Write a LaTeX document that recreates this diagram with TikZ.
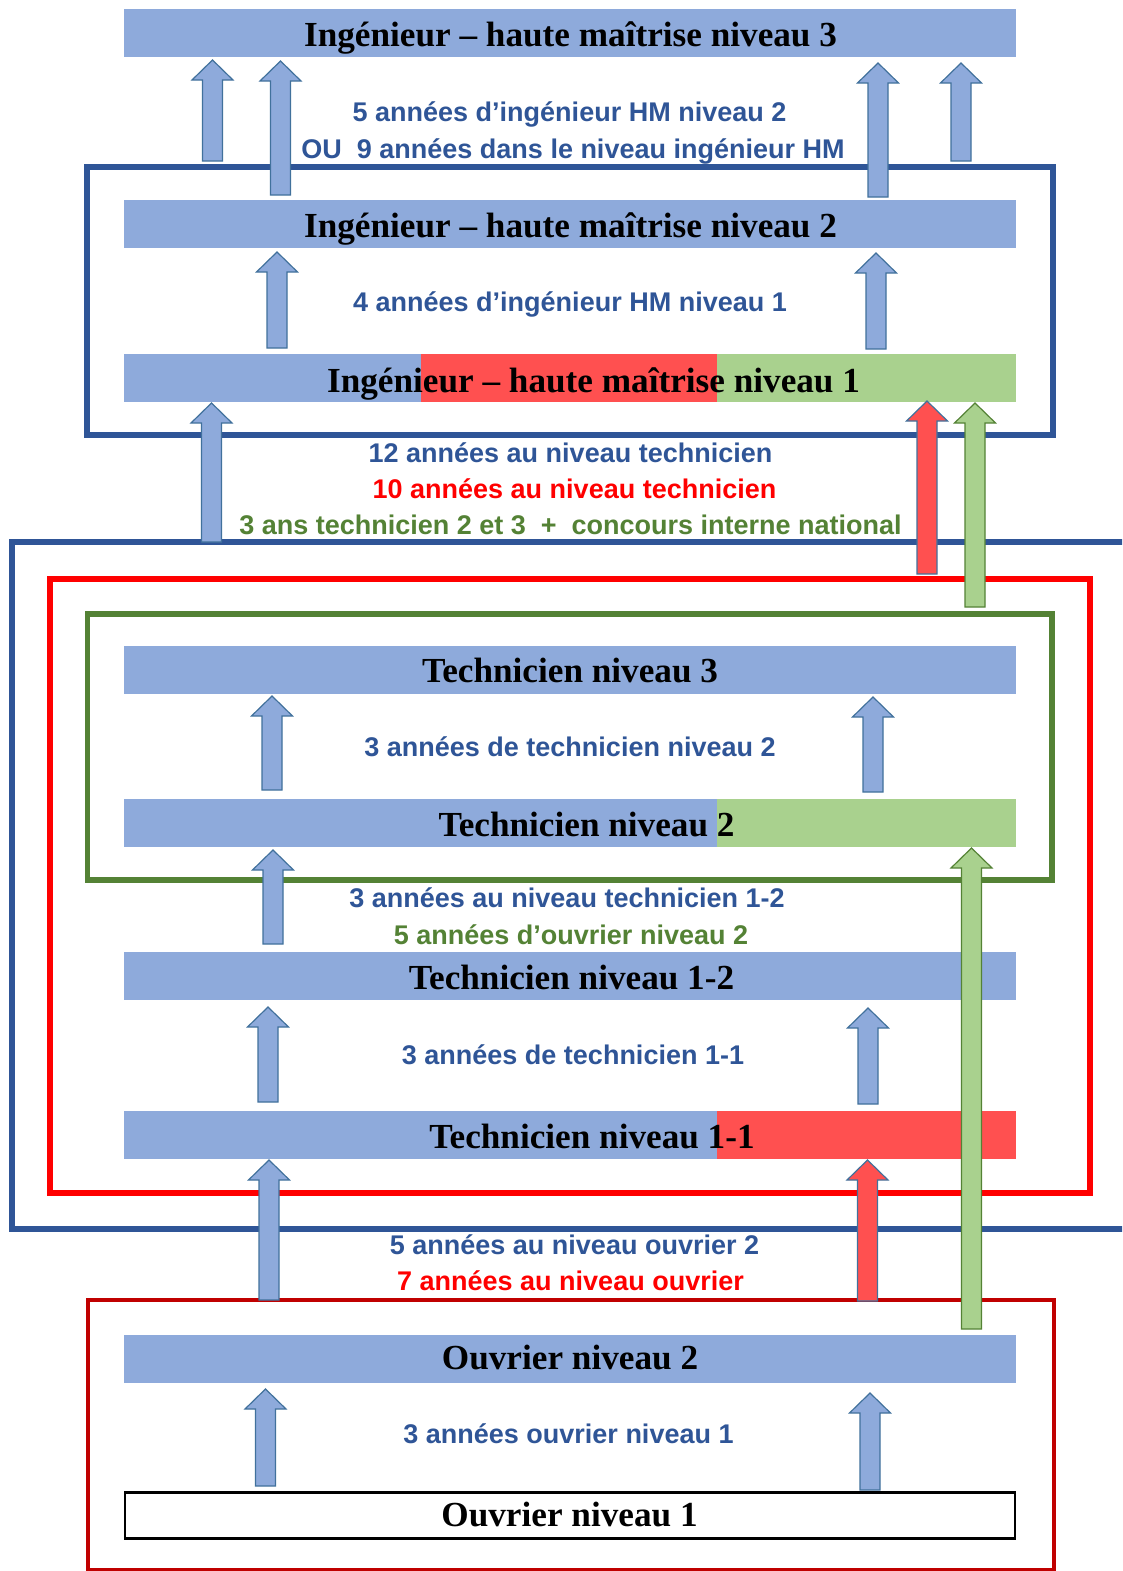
\documentclass[tikz,border=0pt]{standalone}
\usepackage{fontspec}
\setmainfont{Liberation Serif}
\newfontfamily\labfont{Liberation Sans}
\definecolor{barblue}{HTML}{8EAADB}
\definecolor{barred}{HTML}{FF5050}
\definecolor{bargreen}{HTML}{A9D18E}
\definecolor{frameblue}{HTML}{2F5597}
\definecolor{framered}{HTML}{FF0000}
\definecolor{framegreen}{HTML}{548235}
\definecolor{framedark}{HTML}{C00000}
\definecolor{arrowline}{HTML}{41719C}
\tikzset{
  bar/.style={rectangle, fill=barblue, minimum width=892pt, minimum height=48pt, inner sep=0pt},
  title/.style={inner sep=0pt, text height=23pt, text depth=0pt, font=\bfseries\fontsize{35.2}{40}\selectfont},
  lab/.style={inner sep=0pt, text height=19pt, text depth=0pt, font=\labfont\bfseries\fontsize{27}{30}\selectfont},
  frame/.style={line width=5.5pt},
}
\newcommand\blockarrow[5]{% fill, outline, x, y bottom, y tip
  \filldraw[fill=#1, draw=#2, line width=1.2pt, line join=miter]
    (#3-10,#4) -- (#3-10,#5+20) -- (#3-20.5,#5+20) -- (#3,#5) --
    (#3+20.5,#5+20) -- (#3+10,#5+20) -- (#3+10,#4) -- cycle;}
\begin{document}
\begin{tikzpicture}[x=1pt,y=-1pt]
\clip (0,0) rectangle (1122,1571);
\fill[white] (0,0) rectangle (1122,1571);

% frames
\draw[frame, frameblue] (87,167) rectangle (1053,435);
\draw[frame, frameblue] (1130,542) -- (12,542) -- (12,1229) -- (1130,1229);
\draw[frame, framered] (50,579) rectangle (1090,1193);
\draw[frame, framegreen] (87.5,614) rectangle (1052,880);
\draw[line width=4.5pt, framedark] (88,1300) rectangle (1054,1570);

% bars
\node[bar] (ing3) at (570,33.5) {};
\node[bar] (ing2) at (570,224) {};
\node[bar] (ing1) at (570,377.5) {};
\fill[barred] (421,353.5) rectangle (717,401.5);
\fill[bargreen] (717,353.5) rectangle (1016,401.5);
\node[bar] (tech3) at (570,670) {};
\node[bar] (tech2) at (570,823) {};
\fill[bargreen] (717,799) rectangle (1016,847);
\node[bar] (tech12) at (570,976) {};
\node[bar] (tech11) at (570,1134.5) {};
\fill[barred] (717,1110.5) rectangle (1016,1158.5);
\node[bar] (ouv2) at (570,1358.5) {};
\node[bar, fill=white, draw=black, line width=2.5pt, minimum width=890pt, minimum height=46pt] (ouv1) at (570,1515.5) {};

% titles
\node[title] (ing3t) at (570.5,35) {Ingénieur – haute maîtrise niveau 3};
\node[title] (ing2t) at (570.5,226) {Ingénieur – haute maîtrise niveau 2};
\node[title] (ing1t) at (593.5,381) {Ingénieur – haute maîtrise niveau 1};
\node[title] (tech3t) at (570,671) {Technicien niveau 3};
\node[title] (tech2t) at (586.5,825) {Technicien niveau 2};
\node[title] (tech12t) at (571.5,978) {Technicien niveau 1-2};
\node[title] (tech11t) at (592,1137) {Technicien niveau 1-1};
\node[title] (ouv2t) at (570,1358) {Ouvrier niveau 2};
\node[title] (ouv1t) at (569.5,1515) {Ouvrier niveau 1};

% labels
\node[lab, text=frameblue] (l1) at (569.5,112) {5 années d’ingénieur HM niveau 2};
\node[lab, text=frameblue] (l2) at (573,149) {OU\ \ 9 années dans le niveau ingénieur HM};
\node[lab, text=frameblue] (l3) at (570,302) {4 années d’ingénieur HM niveau 1};
\node[lab, text=frameblue] (l4) at (570.5,453) {12 années au niveau technicien};
\node[lab, text=framered] (l5) at (574.5,489) {10 années au niveau technicien};
\node[lab, text=framegreen] (l6) at (570.5,525) {3 ans technicien 2 et 3\ \ +\ \ concours interne national};
\node[lab, text=frameblue] (l7) at (570,747) {3 années de technicien niveau 2};
\node[lab, text=frameblue] (l8) at (567,898) {3 années au niveau technicien 1-2};
\node[lab, text=framegreen] (l9) at (571,935) {5 années d’ouvrier niveau 2};
\node[lab, text=frameblue] (l10) at (573,1055) {3 années de technicien 1-1};
\node[lab, text=frameblue] (l11) at (574.5,1245) {5 années au niveau ouvrier 2};
\node[lab, text=framered] (l12) at (570.5,1281) {7 années au niveau ouvrier};
\node[lab, text=frameblue] (l13) at (568.5,1434) {3 années ouvrier niveau 1};

% block arrows
\blockarrow{barblue}{arrowline}{212.5}{161}{60}
\blockarrow{barblue}{arrowline}{280.5}{195}{61}
\blockarrow{barblue}{arrowline}{878}{197}{63}
\blockarrow{barblue}{arrowline}{961}{161}{63}
\blockarrow{barblue}{arrowline}{277}{348}{252}
\blockarrow{barblue}{arrowline}{876}{349}{253}
\blockarrow{barblue}{arrowline}{211.5}{542}{403}
\blockarrow{barblue}{arrowline}{272}{790}{696}
\blockarrow{barblue}{arrowline}{873}{792}{697}
\blockarrow{barblue}{arrowline}{273}{944}{850}
\blockarrow{barblue}{arrowline}{268}{1102}{1007}
\blockarrow{barblue}{arrowline}{868}{1104}{1008}
\blockarrow{barblue}{arrowline}{269}{1300}{1160}
\blockarrow{barblue}{arrowline}{265.5}{1486}{1389}
\blockarrow{barblue}{arrowline}{870}{1490}{1393}
\blockarrow{barred}{arrowline}{927}{574}{401}
\blockarrow{barred}{arrowline}{867.5}{1301}{1160}
\blockarrow{bargreen}{framegreen}{975}{607}{403}
\blockarrow{bargreen}{framegreen}{971.5}{1329}{848}
\end{tikzpicture}
\end{document}
